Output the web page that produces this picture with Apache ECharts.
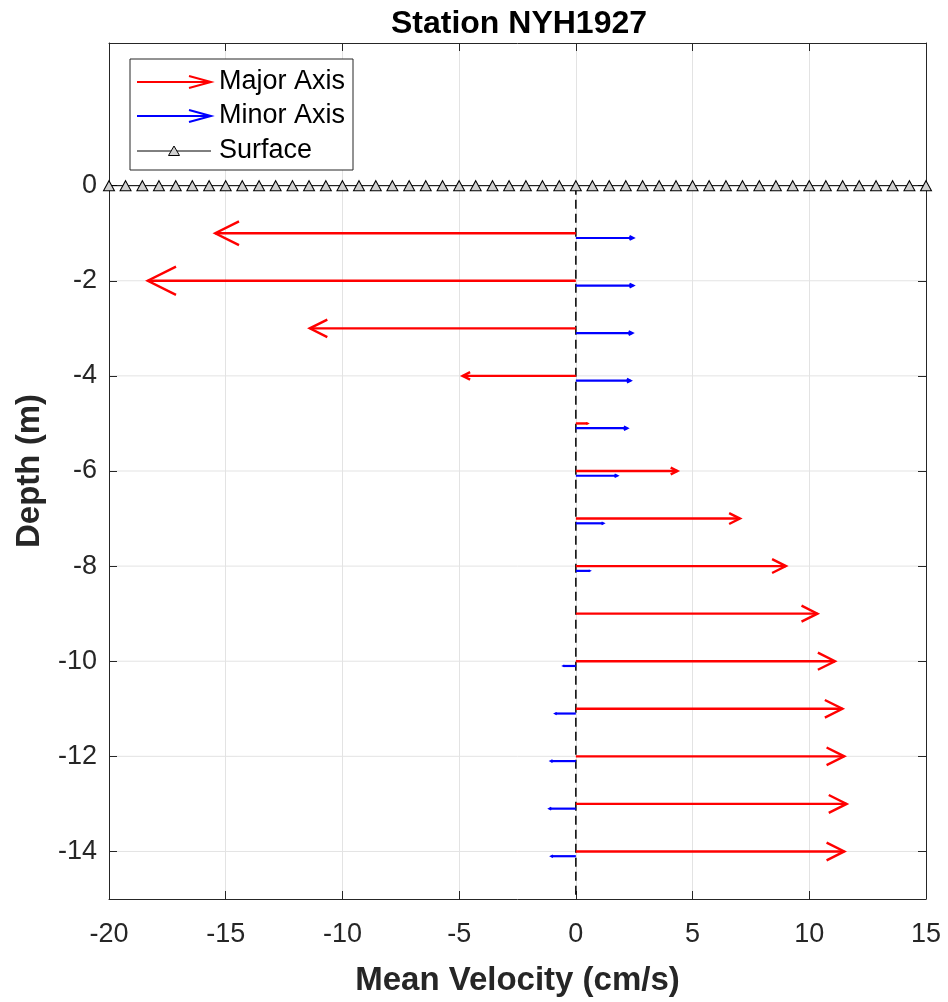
<!DOCTYPE html>
<html>
<head>
<meta charset="utf-8">
<script src="https://cdn.jsdelivr.net/npm/echarts@6/dist/echarts.min.js"></script>
<style>
html,body{margin:0;padding:0;background:#fff;}
#chart{width:948px;height:1002px;}
</style>
</head>
<body>
<div id="chart"></div>
<script>
// ---- data ----
const titleText = 'Station NYH1927';
const xLabel = 'Mean Velocity (cm/s)';
const yLabel = 'Depth (m)';
const depths = [-1, -2, -3, -4, -5, -6, -7, -8, -9, -10, -11, -12, -13, -14];
const majorAxis = [-15.45, -18.34, -11.4, -4.85, 0.48, 4.35, 7.03, 9.0, 10.35, 11.1, 11.42, 11.5, 11.6, 11.5];
const minorDepths = [-1.1, -2.1, -3.1, -4.1, -5.1, -6.1, -7.1, -8.1, -9.1, -10.1, -11.1, -12.1, -13.1, -14.1];
const minorAxis = [2.46, 2.46, 2.42, 2.34, 2.2, 1.77, 1.17, 0.58, 0.0, -0.52, -0.87, -1.06, -1.12, -1.04];
const surfaceX = [-20, -19.29, -18.57, -17.86, -17.14, -16.43, -15.71, -15, -14.29, -13.57, -12.86, -12.14, -11.43, -10.71, -10, -9.29, -8.57, -7.86, -7.14, -6.43, -5.71, -5, -4.29, -3.57, -2.86, -2.14, -1.43, -0.71, 0, 0.71, 1.43, 2.14, 2.86, 3.57, 4.29, 5, 5.71, 6.43, 7.14, 7.86, 8.57, 9.29, 10, 10.71, 11.43, 12.14, 12.86, 13.57, 14.29, 15];
const surfaceY = 0;
const xTicks = [-20, -15, -10, -5, 0, 5, 10, 15];
const yTicks = [-14, -12, -10, -8, -6, -4, -2, 0];
const xMin = -20, xMax = 15, yMin = -15, yMax = 3;
const legendNames = ['Major Axis', 'Minor Axis', 'Surface'];

// ---- styles ----
const FONT = "'Liberation Sans', Arial, Helvetica, sans-serif";
const TXT = '#262626';
const GRID = '#e3e3e3';
const RED = '#ff0000';
const BLUE = '#0000ff';

const chart = echarts.init(document.getElementById('chart'), null, {renderer: 'canvas'});

function arrowRender(color, lw) {
  return function (params, api) {
    const d = api.value(0), v = api.value(1);
    const p0 = api.coord([0, d]);
    const p1 = api.coord([v, d]);
    const L = Math.abs(p1[0] - p0[0]);
    const dir = p1[0] >= p0[0] ? 1 : -1;
    const h = 0.066 * L;
    const w = 0.5 * h;
    return {
      type: 'group',
      children: [
        {type: 'line', shape: {x1: p0[0], y1: p0[1], x2: p1[0], y2: p1[1]},
         style: {stroke: color, lineWidth: lw}},
        {type: 'polyline', shape: {points: [[p1[0] - dir * h, p1[1] - w], [p1[0], p1[1]], [p1[0] - dir * h, p1[1] + w]]},
         style: {stroke: color, lineWidth: lw, fill: null}}
      ]
    };
  };
}

const gridRender = function (params, api) {
  const v = api.value(0);
  const a = api.coord([xMin, v]);
  const b = api.coord([xMax, v]);
  return {type: 'line', shape: {x1: a[0], y1: a[1], x2: b[0], y2: b[1]}, style: {stroke: GRID, lineWidth: 1}};
};

const axisCommon = {
  axisLine: {show: true, onZero: false, lineStyle: {color: TXT, width: 1}},
  axisTick: {show: true, inside: true, length: 8, lineStyle: {color: TXT, width: 1}},
};

// legend graphic
const LX = 130, LY = 59, LW = 223, LH = 111;
const rows = [82, 116, 151];
function legendArrow(y, color) {
  return [
    {type: 'line', shape: {x1: 137, y1: y, x2: 211, y2: y}, style: {stroke: color, lineWidth: 2}},
    {type: 'polyline', shape: {points: [[189, y - 6], [211, y], [189, y + 6]]}, style: {stroke: color, lineWidth: 2, fill: null}}
  ];
}
const legendGraphic = [
  {type: 'rect', shape: {x: LX, y: LY, width: LW, height: LH}, style: {fill: '#fff', stroke: TXT, lineWidth: 1}, z: 100},
  ...legendArrow(rows[0], RED).map(e => Object.assign(e, {z: 101})),
  ...legendArrow(rows[1], BLUE).map(e => Object.assign(e, {z: 101})),
  {type: 'line', shape: {x1: 137, y1: rows[2], x2: 211, y2: rows[2]}, style: {stroke: '#000', lineWidth: 1}, z: 101},
  {type: 'polygon', shape: {points: [[174, rows[2] - 5], [179.5, rows[2] + 4.5], [168.5, rows[2] + 4.5]]}, style: {fill: '#d0d0d0', stroke: '#000', lineWidth: 1}, z: 102},
  ...legendNames.map((n, i) => ({type: 'text', x: 219, y: rows[i], z: 101,
     style: {text: n, font: '27px ' + FONT, fill: '#000', textVerticalAlign: 'middle', textAlign: 'left'}}))
];

const option = {
  animation: false,
  backgroundColor: '#fff',
  title: {text: titleText, left: 514, top: 3, textAlign: 'center',
          textStyle: {fontFamily: FONT, fontSize: 32, fontWeight: 'bold', color: '#000'}},
  grid: {left: 109, right: 22, top: 43, bottom: 97, containLabel: false},
  xAxis: [
    Object.assign({}, axisCommon, {
      type: 'value', min: xMin, max: xMax, interval: 5, position: 'bottom',
      name: xLabel, nameLocation: 'middle', nameGap: 65,
      nameTextStyle: {fontFamily: FONT, fontSize: 33, fontWeight: 'bold', color: TXT},
      axisLabel: {fontFamily: FONT, fontSize: 27, color: TXT, margin: 22},
      splitLine: {show: true, lineStyle: {color: GRID, width: 1}}
    }),
    Object.assign({}, axisCommon, {
      type: 'value', min: xMin, max: xMax, interval: 5, position: 'top',
      axisLabel: {show: false}, splitLine: {show: false}
    })
  ],
  yAxis: [
    Object.assign({}, axisCommon, {
      type: 'value', min: yMin, max: yMax, position: 'left',
      name: yLabel, nameLocation: 'middle', nameGap: 63,
      nameTextStyle: {fontFamily: FONT, fontSize: 33, fontWeight: 'bold', color: TXT},
      axisLabel: {fontFamily: FONT, fontSize: 27, color: TXT, margin: 12, customValues: yTicks},
      axisTick: Object.assign({}, axisCommon.axisTick, {customValues: yTicks}),
      splitLine: {show: false}
    }),
    Object.assign({}, axisCommon, {
      type: 'value', min: yMin, max: yMax, position: 'right',
      axisLabel: {show: false, customValues: yTicks},
      axisTick: Object.assign({}, axisCommon.axisTick, {customValues: yTicks}),
      splitLine: {show: false}
    })
  ],
  graphic: legendGraphic,
  series: [
    {type: 'custom', name: 'grid', silent: true, z: 0, clip: true,
     xAxisIndex: 0, yAxisIndex: 0,
     data: yTicks.map(v => [v]), renderItem: gridRender},
    {type: 'line', name: 'zero', silent: true, z: 1, symbol: 'none',
     xAxisIndex: 0, yAxisIndex: 0,
     data: [[0, surfaceY], [0, yMin]],
     lineStyle: {color: '#000', width: 1.5, type: [9, 5]}},
    {type: 'custom', name: legendNames[0], z: 3, clip: false,
     xAxisIndex: 0, yAxisIndex: 0,
     data: depths.map((d, i) => [d, majorAxis[i]]),
     renderItem: arrowRender(RED, 2.4)},
    {type: 'custom', name: legendNames[1], z: 3, clip: false,
     xAxisIndex: 0, yAxisIndex: 0,
     data: minorDepths.map((d, i) => [d, minorAxis[i]]),
     renderItem: arrowRender(BLUE, 2.2)},
    {type: 'line', name: legendNames[2], z: 4, clip: false,
     xAxisIndex: 0, yAxisIndex: 0,
     data: surfaceX.map(x => [x, surfaceY]),
     symbol: 'triangle', symbolSize: [11, 10], showSymbol: true,
     lineStyle: {color: '#000', width: 1},
     itemStyle: {color: '#d0d0d0', borderColor: '#000', borderWidth: 1}}
  ]
};
chart.setOption(option);
</script>
</body>
</html>
